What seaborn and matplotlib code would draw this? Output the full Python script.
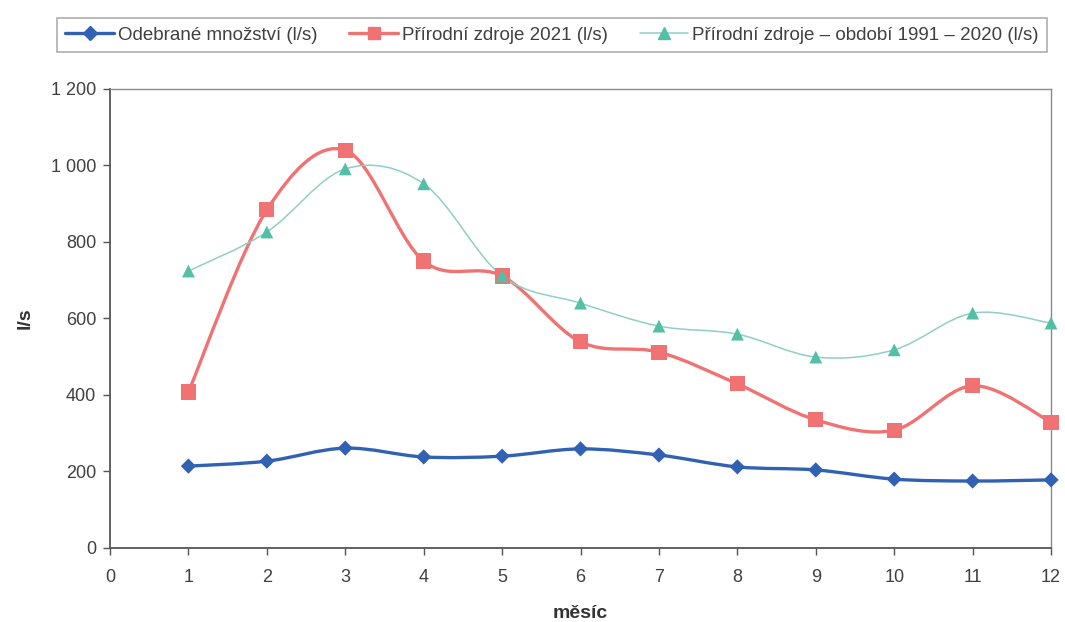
import matplotlib
matplotlib.use("Agg")
import matplotlib.pyplot as plt
import numpy as np
import pandas as pd
import seaborn as sns
from matplotlib.lines import Line2D
from matplotlib.patches import PathPatch
from matplotlib.path import Path

# data (l/s per month)
months = list(range(1, 13))
odebrane = [214, 227, 261, 238, 240, 259, 243, 212, 204, 180, 175, 178]
zdroje_2021 = [408, 884, 1040, 750, 711, 539, 512, 429, 335, 308, 424, 329]
zdroje_1991_2020 = [724, 826, 991, 952, 711, 640, 580, 559, 499, 518, 614, 588]

labels = [
    "Odebrané množství (l/s)",
    "Přírodní zdroje 2021 (l/s)",
    "Přírodní zdroje – období 1991 – 2020 (l/s)",
]
colors = ["#3161B3", "#F07272", "#52BFA6"]
line_colors = ["#3161B3", "#F07272", "#8FD0C2"]
line_widths = [2.4, 2.4, 1.1]
markers = ["D", "s", "^"]
marker_sizes = [60, 120, 85]

sns.set_style("white")
plt.rcParams["font.family"] = ["Liberation Sans", "DejaVu Sans"]


def smooth_path(x, y):
    # Excel-style smoothed line: cubic bezier segments (catmull-rom, tension 1/6)
    pts = np.column_stack([x, y]).astype(float)
    ext = np.vstack([pts[0], pts, pts[-1]])
    verts = [pts[0]]
    codes = [Path.MOVETO]
    for i in range(1, len(ext) - 2):
        p0, p1, p2, p3 = ext[i - 1], ext[i], ext[i + 1], ext[i + 2]
        verts += [p1 + (p2 - p0) / 6, p2 - (p3 - p1) / 6, p2]
        codes += [Path.CURVE4] * 3
    return Path(verts, codes)


df = pd.concat(
    [
        pd.DataFrame({"mesic": months, "hodnota": vals, "rada": lab})
        for vals, lab in zip([odebrane, zdroje_2021, zdroje_1991_2020], labels)
    ]
)

fig = plt.figure(figsize=(10.65, 6.22), dpi=100)
ax = fig.add_axes([0.1033, 0.119, 0.8836, 0.738])

for vals, lc, lw in zip([odebrane, zdroje_2021, zdroje_1991_2020], line_colors, line_widths):
    ax.add_patch(
        PathPatch(smooth_path(months, vals), facecolor="none", edgecolor=lc, lw=lw, zorder=2)
    )

sns.scatterplot(
    data=df,
    x="mesic",
    y="hodnota",
    hue="rada",
    style="rada",
    size="rada",
    palette=dict(zip(labels, colors)),
    markers=dict(zip(labels, markers)),
    sizes=dict(zip(labels, marker_sizes)),
    linewidth=0,
    legend=False,
    zorder=3,
    clip_on=False,
    ax=ax,
)

ax.set_xlim(0, 12)
ax.set_ylim(0, 1200)
ax.set_xticks(range(0, 13))
ax.set_yticks(range(0, 1201, 200))
ax.set_yticklabels([f"{v:,}".replace(",", " ") for v in range(0, 1201, 200)])
ax.tick_params(axis="both", direction="out", length=5, width=1, color="#555555",
               labelsize=13, labelcolor="#404040")
ax.tick_params(axis="x", pad=10)
ax.tick_params(axis="y", pad=5)
ax.tick_params(axis="both", left=True, bottom=True)
for side in ["left", "bottom"]:
    ax.spines[side].set_color("#555555")
    ax.spines[side].set_linewidth(1.3)
for side in ["top", "right"]:
    ax.spines[side].set_color("#8a8a8a")
    ax.spines[side].set_linewidth(1.0)

ax.set_xlabel("měsíc", fontsize=14, fontweight="bold", color="#333333", labelpad=14)
ax.set_ylabel("l/s", fontsize=14, fontweight="bold", color="#333333", labelpad=12)

handles = [
    Line2D([], [], color=lc, lw=lw, marker=m, markersize=ms, markerfacecolor=c,
           markeredgecolor=c)
    for lc, lw, m, ms, c in zip(line_colors, line_widths, markers, [7, 8, 8], colors)
]
leg = fig.legend(
    handles,
    labels,
    ncol=3,
    loc="lower left",
    bbox_to_anchor=(57 / 1065, 1 - 52 / 622, 990 / 1065, 35 / 622),
    mode="expand",
    fancybox=False,
    frameon=True,
    edgecolor="#9a9a9a",
    fontsize=13.5,
    handlelength=2.6,
    handletextpad=0.2,
    borderaxespad=0,
    borderpad=0.45,
)
leg.get_frame().set_linewidth(1.2)
for t in leg.get_texts():
    t.set_color("#404040")

fig.savefig("out.png", dpi=100)
